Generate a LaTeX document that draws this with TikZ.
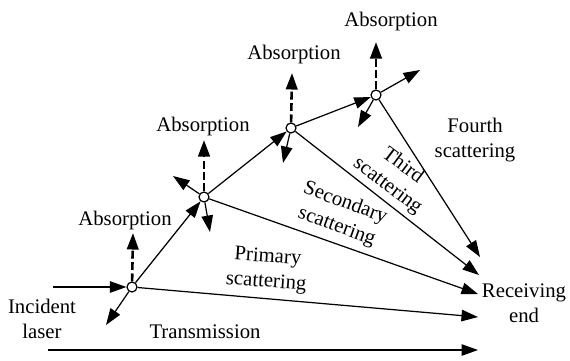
\documentclass[tikz,border=0pt]{standalone}
\usepackage{fontspec}
\setmainfont{Liberation Serif}
\usetikzlibrary{arrows.meta}

\begin{document}
\begin{tikzpicture}[
  x=0.02cm, y=-0.02cm,
  font=\fontsize{11.8}{14.2}\selectfont,
  ray/.style={line width=0.7pt, -{Triangle[length=0.33cm,width=0.23cm]}},
  absorb/.style={line width=1.5pt, dash pattern=on 4.5pt off 2pt, -{Triangle[length=0.33cm,width=0.23cm]}},
  scat/.style={circle, draw, line width=0.7pt, fill=white, minimum size=0.2cm, inner sep=0pt},
  lbl/.style={align=center, inner sep=0pt}
]
\useasboundingbox (0,0) rectangle (570,360);

% scattering points
\node[scat] (s1) at (132,287) {};
\node[scat] (s2) at (204,197) {};
\node[scat] (s3) at (291,128) {};
\node[scat] (s4) at (376,95) {};

% free ends
\coordinate (inc) at (53,287);
\coordinate (b1) at (106,325);
\coordinate (a1) at (133,233);
\coordinate (a2) at (204,140);
\coordinate (b2u) at (173,176);
\coordinate (b2d) at (210,232);
\coordinate (a3) at (292,73);
\coordinate (b3) at (283,163);
\coordinate (a4) at (376,42);
\coordinate (f4) at (420,70);
\coordinate (b4) at (358,127);
\coordinate (r1) at (478,317);
\coordinate (r2) at (478,294);
\coordinate (r3) at (479,275);
\coordinate (r4) at (480,257);
\coordinate (t0) at (48,350);
\coordinate (t1) at (478,350);

% labels
\node[lbl] (lin) at (42,319) {Incident\\laser};
\node[lbl] (lrec) at (524,303) {Receiving\\end};
\node[lbl] (ltr) at (205,332) {Transmission};
\node[lbl] (ab1) at (125,220) {Absorption};
\node[lbl] (ab2) at (203,127) {Absorption};
\node[lbl] (ab3) at (294,55) {Absorption};
\node[lbl] (ab4) at (391,22) {Absorption};
\node[lbl, rotate=-4] (lp) at (267,270) {Primary\\scattering};
\node[lbl, rotate=-20] (ls) at (341,215) {Secondary\\scattering};
\node[lbl, rotate=-37] (lt) at (395,176) {Third\\scattering};
\node[lbl] (lf) at (475,140) {Fourth\\scattering};

% rays
\draw[ray] (inc) -- (s1);
\draw[ray] (s1) -- (s2);
\draw[ray] (s2) -- (s3);
\draw[ray] (s3) -- (s4);
\draw[ray] (s4) -- (f4);
\draw[ray] (s1) -- (b1);
\draw[ray] (s2) -- (b2u);
\draw[ray] (s2) -- (b2d);
\draw[ray] (s3) -- (b3);
\draw[ray] (s4) -- (b4);
\draw[ray] (s1) -- (r1);
\draw[ray] (s2) -- (r2);
\draw[ray] (s3) -- (r3);
\draw[ray] (s4) -- (r4);
\draw[ray] (t0) -- (t1);

% absorption
\draw[absorb] (s1) -- (a1);
\draw[absorb] (s2) -- (a2);
\draw[absorb] (s3) -- (a3);
\draw[absorb] (s4) -- (a4);
\end{tikzpicture}
\end{document}
